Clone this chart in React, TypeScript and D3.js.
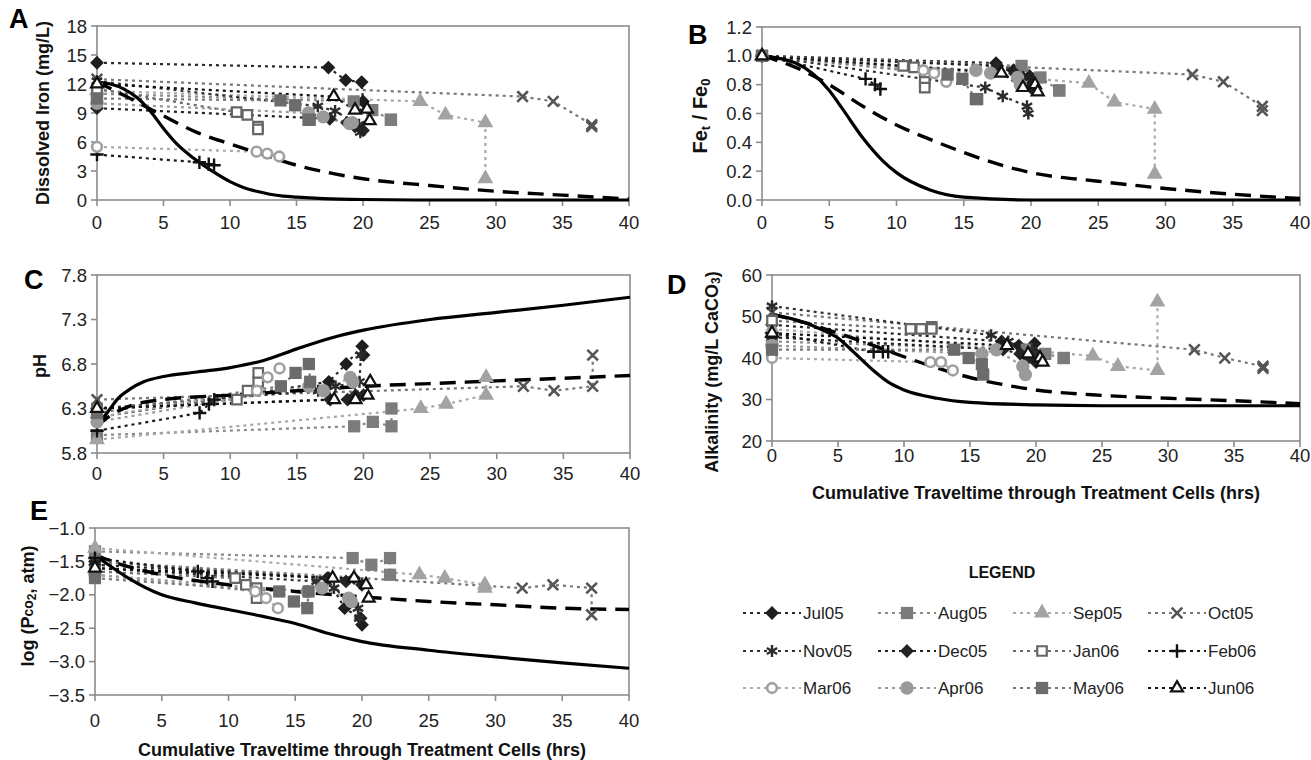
import * as d3 from "d3";

type Pt = [number, number];

const months = ["Jul05", "Aug05", "Sep05", "Oct05", "Nov05", "Dec05", "Jan06", "Feb06", "Mar06", "Apr06", "May06", "Jun06"];

// sampling times (hrs) for each month, same order as months
const timeHrs: number[][] = [
  [0, 17.4, 18.7, 19.9, 20.0],
  [0, 19.3, 20.7, 22.1, 22.1],
  [0, 24.3, 26.2, 29.2, 29.2],
  [0, 32.0, 34.3, 37.2, 37.2],
  [0, 16.6, 17.9, 19.7, 19.8],
  [0, 17.5, 18.8, 19.4, 20.0],
  [0, 10.5, 11.3, 12.1, 12.1],
  [0, 7.7, 8.4, 8.8],
  [0, 12.0, 12.8, 13.7],
  [0, 15.9, 17.0, 19.0, 19.2],
  [0, 13.8, 14.9, 15.9, 16.0],
  [0, 17.8, 19.4, 20.3, 20.5],
];

const ironMgL: number[][] = [
  [14.2, 13.7, 12.4, 12.2, 10.2],
  [11.0, 10.2, 9.3, 8.3, 8.3],
  [11.3, 10.2, 8.8, 8.0, 2.2],
  [12.5, 10.7, 10.2, 7.8, 7.6],
  [12.3, 9.7, 9.2, 7.8, 7.0],
  [9.5, 8.4, 8.0, 7.6, 7.2],
  [11.5, 9.1, 8.8, 7.6, 7.3],
  [4.7, 3.9, 3.7, 3.6],
  [5.5, 5.0, 4.8, 4.5],
  [10.0, 9.0, 8.6, 7.9, 8.0],
  [10.5, 10.3, 9.8, 8.3, 8.3],
  [12.0, 10.7, 9.3, 9.4, 8.2],
];

const ironRatio: number[][] = [
  [1.0, 0.95, 0.9, 0.86, 0.8],
  [1.0, 0.93, 0.85, 0.76, 0.76],
  [1.0, 0.81, 0.68, 0.63, 0.18],
  [1.0, 0.87, 0.82, 0.65, 0.62],
  [1.0, 0.78, 0.72, 0.65, 0.6],
  [1.0, 0.93, 0.88, 0.85, 0.78],
  [1.0, 0.93, 0.92, 0.82, 0.78],
  [1.0, 0.84, 0.8, 0.77],
  [1.0, 0.9, 0.88, 0.82],
  [1.0, 0.9, 0.88, 0.85, 0.8],
  [1.0, 0.87, 0.84, 0.7, 0.7],
  [1.0, 0.88, 0.78, 0.8, 0.75],
];

const phValues: number[][] = [
  [6.2, 6.6, 6.8, 7.0, 6.9],
  [6.0, 6.1, 6.15, 6.1, 6.3],
  [5.95, 6.3, 6.35, 6.45, 6.65],
  [6.4, 6.55, 6.5, 6.55, 6.9],
  [6.3, 6.5, 6.55, 6.6, 6.9],
  [6.3, 6.4, 6.4, 6.45, 6.45],
  [6.3, 6.4, 6.5, 6.6, 6.7],
  [6.05, 6.25, 6.35, 6.4],
  [6.2, 6.5, 6.65, 6.75],
  [6.15, 6.55, 6.5, 6.65, 6.6],
  [6.25, 6.55, 6.7, 6.8, 6.6],
  [6.3, 6.4, 6.4, 6.45, 6.6],
];

const alkalinity: number[][] = [
  [48, 44, 43, 43.5, 41],
  [44, 42, 41, 40, 40],
  [47, 40.5, 38, 37, 53.5],
  [51, 42, 40, 38, 37.5],
  [52.5, 45.5, 44, 42, 41],
  [45, 42, 41, 40, 39],
  [49, 47, 47, 47.5, 47],
  [46, 41.5, 41.5, 41.5],
  [40, 39, 39, 37],
  [43, 41, 42, 38, 36],
  [42, 42, 40, 38.5, 36],
  [46, 43, 41, 40, 39],
];

const logPco2: number[][] = [
  [-1.5, -1.75, -2.2, -2.35, -2.45],
  [-1.35, -1.45, -1.55, -1.45, -1.7],
  [-1.3, -1.7, -1.75, -1.85, -1.9],
  [-1.5, -1.9, -1.85, -1.9, -2.3],
  [-1.6, -1.8, -1.9, -2.2, -2.35],
  [-1.55, -1.75, -1.8, -1.75, -1.85],
  [-1.65, -1.75, -1.85, -1.9, -2.05],
  [-1.45, -1.65, -1.75, -1.8],
  [-1.7, -1.95, -2.05, -2.2],
  [-1.7, -1.95, -1.9, -2.05, -2.1],
  [-1.75, -1.95, -2.1, -2.2, -1.95],
  [-1.6, -1.75, -1.75, -1.85, -2.05],
];

// model curves [hrs, value]
const ironSolid: Pt[] = [[0, 12.2], [1, 12], [2, 11.5], [3, 10.6], [4, 9.2], [5, 7.4], [6, 5.8], [7, 4.6], [8, 3.6], [9, 2.7], [10, 1.9], [11, 1.3], [12, 0.9], [13, 0.6], [14, 0.4], [15, 0.3], [17, 0.15], [20, 0.05], [25, 0], [40, 0]];
const ironDashed: Pt[] = [[0, 12.2], [2.5, 10.5], [5, 8.7], [7.5, 7.0], [10, 5.8], [12.5, 4.7], [15, 3.6], [17.5, 2.8], [20, 2.2], [25, 1.5], [30, 0.9], [35, 0.5], [40, 0.1]];
const ratioSolid: Pt[] = [[0, 1], [2.5, 0.95], [5, 0.76], [6, 0.63], [7.5, 0.43], [9, 0.27], [10, 0.19], [12.5, 0.07], [15, 0.02], [20, 0], [40, 0]];
const ratioDashed: Pt[] = [[0, 1], [2.5, 0.92], [5, 0.8], [7.5, 0.65], [10, 0.52], [12.5, 0.42], [15, 0.33], [17.5, 0.25], [20, 0.19], [25, 0.13], [30, 0.08], [35, 0.04], [40, 0.01]];
const phSolid: Pt[] = [[0, 6.1], [0.5, 6.2], [1, 6.3], [1.5, 6.4], [2.5, 6.52], [3.5, 6.6], [5, 6.66], [7.5, 6.71], [10, 6.76], [12.5, 6.84], [15, 6.97], [17.5, 7.09], [20, 7.18], [25, 7.3], [30, 7.38], [35, 7.46], [40, 7.55]];
const phDashed: Pt[] = [[0, 6.1], [1, 6.22], [2.5, 6.33], [5, 6.4], [10, 6.45], [15, 6.5], [20, 6.55], [25, 6.58], [30, 6.61], [35, 6.64], [40, 6.67]];
const alkSolid: Pt[] = [[0, 50.5], [2.5, 48.5], [4, 46.5], [5, 44.8], [6, 42], [7.5, 37.5], [9, 33.8], [10, 32.3], [12.5, 30.3], [15, 29.3], [20, 28.7], [25, 28.5], [30, 28.5], [40, 28.5]];
const alkDashed: Pt[] = [[0, 50.5], [2.5, 48.5], [5, 46], [7.5, 43.2], [10, 40.3], [12.5, 37.6], [15, 35.3], [17.5, 33.6], [20, 32.3], [25, 31], [30, 30.3], [35, 29.7], [40, 29]];
const pco2Solid: Pt[] = [[0, -1.4], [1, -1.55], [2.5, -1.75], [5, -2.0], [7.5, -2.12], [10, -2.22], [12.5, -2.32], [15, -2.43], [17.5, -2.58], [20, -2.7], [25, -2.83], [30, -2.93], [35, -3.02], [40, -3.1]];
const pco2Dashed: Pt[] = [[0, -1.4], [2.5, -1.58], [5, -1.7], [10, -1.85], [15, -1.95], [20, -2.03], [25, -2.1], [30, -2.15], [35, -2.2], [40, -2.22]];

const xTicks = [0, 5, 10, 15, 20, 25, 30, 35, 40];
const ironTicks = [0, 3, 6, 9, 12, 15, 18];
const ratioTicks = [0, 0.2, 0.4, 0.6, 0.8, 1.0, 1.2];
const phTicks = [5.8, 6.3, 6.8, 7.3, 7.8];
const alkTicks = [20, 30, 40, 50, 60];
const pco2Ticks = [-3.5, -3.0, -2.5, -2.0, -1.5, -1.0];

const FONT = "'Liberation Sans', Arial, Helvetica, sans-serif";
const AXIS = "#8c8c8c";

type Style = { symbol: d3.SymbolType; size: number; fill: string; stroke: string; sw: number; line: string; rotate?: number };
const styles: Style[] = [
  { symbol: d3.symbolSquare, size: 95, fill: "#1e1e1e", stroke: "none", sw: 0, line: "#2a2a2a", rotate: 45 },
  { symbol: d3.symbolSquare, size: 150, fill: "#7c7c7c", stroke: "none", sw: 0, line: "#8a8a8a" },
  { symbol: d3.symbolTriangle, size: 110, fill: "#a3a3a3", stroke: "none", sw: 0, line: "#a8a8a8" },
  { symbol: d3.symbolTimes, size: 75, fill: "none", stroke: "#555", sw: 2.6, line: "#777" },
  { symbol: d3.symbolAsterisk, size: 100, fill: "none", stroke: "#2c2c2c", sw: 2.4, line: "#333" },
  { symbol: d3.symbolSquare, size: 95, fill: "#232323", stroke: "none", sw: 0, line: "#222", rotate: 45 },
  { symbol: d3.symbolSquare, size: 90, fill: "#fff", stroke: "#666", sw: 2.2, line: "#6a6a6a" },
  { symbol: d3.symbolPlus, size: 60, fill: "none", stroke: "#111", sw: 2.4, line: "#1a1a1a" },
  { symbol: d3.symbolCircle, size: 75, fill: "#fff", stroke: "#a0a0a0", sw: 2.6, line: "#aaa" },
  { symbol: d3.symbolCircle, size: 140, fill: "#9a9a9a", stroke: "none", sw: 0, line: "#9a9a9a" },
  { symbol: d3.symbolSquare, size: 150, fill: "#6c6c6c", stroke: "none", sw: 0, line: "#787878" },
  { symbol: d3.symbolTriangle, size: 62, fill: "#fff", stroke: "#111", sw: 2.2, line: "#111" },
];

function Marker({ s, x, y }: { s: Style; x: number; y: number }) {
  const d = d3.symbol().type(s.symbol).size(s.size)() || "";
  return (
    <path
      d={d}
      transform={`translate(${x},${y}) rotate(${s.rotate || 0})`}
      fill={s.fill}
      stroke={s.stroke}
      strokeWidth={s.sw}
    />
  );
}

type PanelProps = {
  left: number; right: number; top: number; bottom: number;
  yDomain: [number, number]; yTicks: number[]; yFmt: (v: number) => string;
  values: number[][]; solid: Pt[]; dashed: Pt[];
  letter: string; letterX: number; letterY: number;
  titleX: number; titleY: number; title: any; titleSize?: number;
  xLabelY: number; xTitleY?: number;
};

function Panel(p: PanelProps) {
  const x = d3.scaleLinear().domain([0, 40]).range([p.left, p.right]);
  const y = d3.scaleLinear().domain(p.yDomain).range([p.bottom, p.top]);
  const dataLine = d3.line<Pt>().x((d) => x(d[0])).y((d) => y(d[1]));
  const modelLine = d3.line<Pt>().x((d) => x(d[0])).y((d) => y(d[1])).curve(d3.curveMonotoneX);
  const pts = p.values.map((vals, i) => vals.map((v, j) => [timeHrs[i][j], v] as Pt));

  return (
    <g>
      <rect x={p.left} y={p.top} width={p.right - p.left} height={p.bottom - p.top} fill="none" stroke={AXIS} strokeWidth={1.6} />
      {p.yTicks.map((t) => (
        <g key={"y" + t}>
          <line x1={p.left - 6} x2={p.left} y1={y(t)} y2={y(t)} stroke={AXIS} strokeWidth={1.6} />
          <text x={p.left - 10} y={y(t)} textAnchor="end" dominantBaseline="central" fontSize={18.5} fill="#222">{p.yFmt(t)}</text>
        </g>
      ))}
      {xTicks.map((t) => (
        <g key={"x" + t}>
          <line x1={x(t)} x2={x(t)} y1={p.bottom} y2={p.bottom + 6} stroke={AXIS} strokeWidth={1.6} />
          <text x={x(t)} y={p.xLabelY} textAnchor="middle" dominantBaseline="central" fontSize={18.5} fill="#222">{t}</text>
        </g>
      ))}
      {pts.map((d, i) => (
        <path key={"l" + i} d={dataLine(d) || ""} fill="none" stroke={styles[i].line} strokeWidth={2.2} strokeDasharray="3 4" />
      ))}
      <path d={modelLine(p.dashed) || ""} fill="none" stroke="#000" strokeWidth={3.4} strokeDasharray="16 9" />
      <path d={modelLine(p.solid) || ""} fill="none" stroke="#000" strokeWidth={3.2} />
      {pts.map((d, i) =>
        d.map((q, j) => <Marker key={"m" + i + "-" + j} s={styles[i]} x={x(q[0])} y={y(q[1])} />)
      )}
      <text x={p.letterX} y={p.letterY} fontSize={27} fontWeight="bold" fill="#000">{p.letter}</text>
      <text
        transform={`translate(${p.titleX},${p.titleY}) rotate(-90)`}
        textAnchor="middle"
        dominantBaseline="central"
        fontSize={p.titleSize || 18}
        fontWeight="bold"
        fill="#111"
      >
        {p.title}
      </text>
      {p.xTitleY ? (
        <text x={(p.left + p.right) / 2} y={p.xTitleY} textAnchor="middle" dominantBaseline="central" fontSize={18} fontWeight="bold" fill="#111">
          Cumulative Traveltime through Treatment Cells (hrs)
        </text>
      ) : null}
    </g>
  );
}

function Legend() {
  const cols = [743, 878, 1013, 1148];
  const rows = [613, 651, 688];
  return (
    <g>
      <text x={1002} y={572} textAnchor="middle" dominantBaseline="central" fontSize={16} fontWeight="bold" fill="#111">LEGEND</text>
      {months.map((m, i) => {
        const cx = cols[i % 4];
        const cy = rows[Math.floor(i / 4)];
        const s = styles[i];
        return (
          <g key={m}>
            <line x1={cx} x2={cx + 58} y1={cy} y2={cy} stroke={s.line} strokeWidth={2.2} strokeDasharray="3 4" />
            <Marker s={s} x={cx + 29} y={cy} />
            <text x={cx + 60} y={cy} dominantBaseline="central" fontSize={17} fill="#222">{m}</text>
          </g>
        );
      })}
    </g>
  );
}

const f1 = d3.format(".1f");
const f0 = (v: number) => String(v);

export default function App() {
  return (
    <svg width={1311} height={760} style={{ position: "absolute", left: 0, top: 0, background: "#fff", fontFamily: FONT }}>
      <Panel
        left={97} right={629} top={26} bottom={200}
        yDomain={[0, 18]} yTicks={ironTicks} yFmt={f0}
        values={ironMgL} solid={ironSolid} dashed={ironDashed}
        letter="A" letterX={9} letterY={28}
        titleX={43} titleY={113} title="Dissolved Iron (mg/L)"
        xLabelY={222}
      />
      <Panel
        left={762} right={1300} top={27} bottom={200}
        yDomain={[0, 1.2]} yTicks={ratioTicks} yFmt={f1}
        values={ironRatio} solid={ratioSolid} dashed={ratioDashed}
        letter="B" letterX={688} letterY={44}
        titleX={700} titleY={116} titleSize={20}
        title={<>
          <tspan>Fe</tspan><tspan fontSize={13} dy={5}>t</tspan><tspan dy={-5}> / Fe</tspan><tspan fontSize={13} dy={5}>0</tspan>
        </>}
        xLabelY={222}
      />
      <Panel
        left={97} right={630} top={275} bottom={453}
        yDomain={[5.8, 7.8]} yTicks={phTicks} yFmt={f1}
        values={phValues} solid={phSolid} dashed={phDashed}
        letter="C" letterX={24} letterY={289}
        titleX={40} titleY={366} title="pH"
        xLabelY={473}
      />
      <Panel
        left={772} right={1300} top={275} bottom={441}
        yDomain={[20, 60]} yTicks={alkTicks} yFmt={f0}
        values={alkalinity} solid={alkSolid} dashed={alkDashed}
        letter="D" letterX={667} letterY={294}
        titleX={712} titleY={372}
        title={<>
          <tspan>Alkalinity (mg/L CaCO</tspan><tspan fontSize={12} dy={4}>3</tspan><tspan dy={-4}>)</tspan>
        </>}
        xLabelY={455} xTitleY={493}
      />
      <Panel
        left={95} right={629} top={528} bottom={695}
        yDomain={[-3.5, -1.0]} yTicks={pco2Ticks} yFmt={f1}
        values={logPco2} solid={pco2Solid} dashed={pco2Dashed}
        letter="E" letterX={30} letterY={520}
        titleX={28} titleY={606}
        title={<>
          <tspan>log (P</tspan><tspan fontSize={14}>co</tspan><tspan fontSize={12} dy={4}>2</tspan><tspan dy={-4}>, atm)</tspan>
        </>}
        xLabelY={720} xTitleY={750}
      />
      <Legend />
    </svg>
  );
}
